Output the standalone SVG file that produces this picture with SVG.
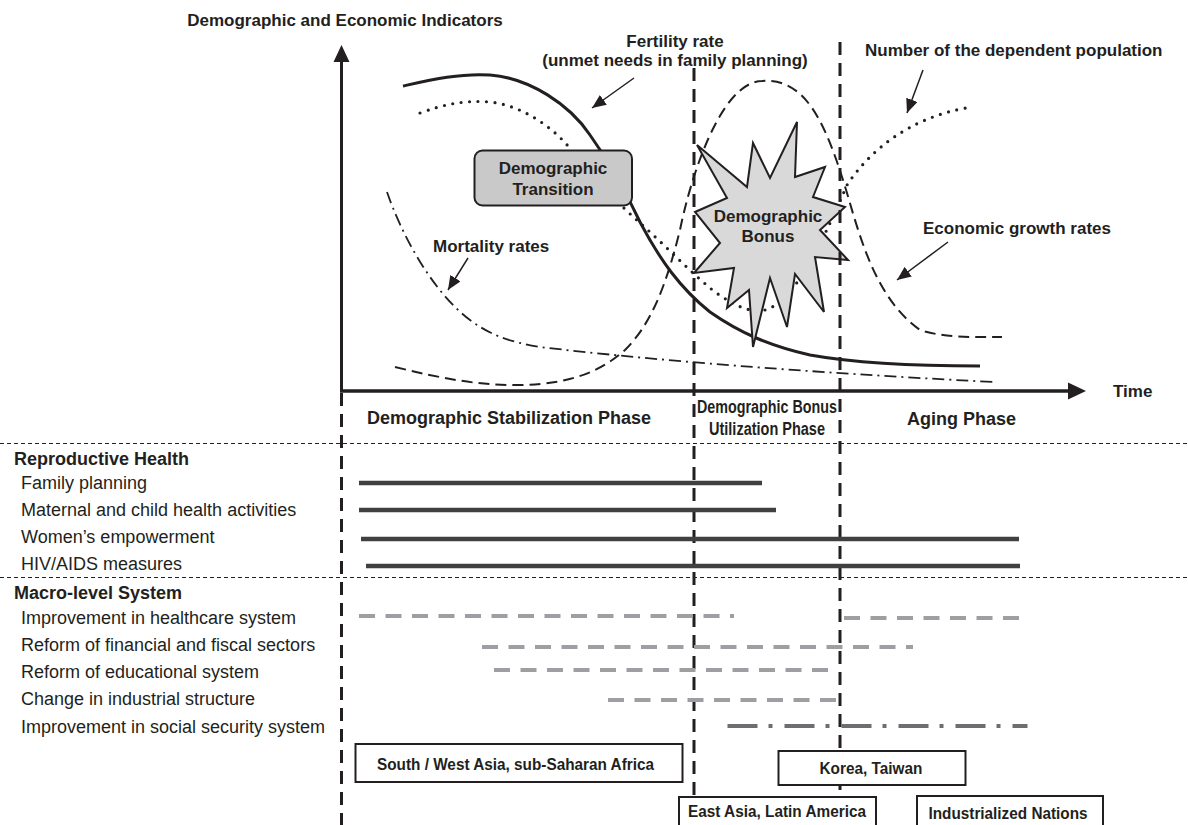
<svg xmlns="http://www.w3.org/2000/svg" width="1188" height="825" viewBox="0 0 1188 825">
<defs>
<marker id="ah" markerUnits="userSpaceOnUse" markerWidth="15" markerHeight="12" refX="14" refY="6" orient="auto"><path d="M0,0 L14,6 L0,12 z" fill="#231f20"/></marker>
<style>
text{font-family:"Liberation Sans",Arial,sans-serif;fill:#231f20}
.b{font-weight:bold}
.lab{font-size:18px}
.ann{font-size:17px;font-weight:bold}
.ph{font-size:18px;font-weight:bold}
.vd{stroke:#231f20;stroke-width:3;stroke-dasharray:13 8;fill:none}
.sep{stroke:#231f20;stroke-width:1;stroke-dasharray:4 3}
.bar{stroke:#404040;stroke-width:4.5}
.gb{stroke:#9d9fa2;stroke-width:4;stroke-dasharray:16 10.5}
.box rect{fill:#fff;stroke:#231f20;stroke-width:2}
.box text{font-size:16.5px;font-weight:bold;text-anchor:middle}
.cur{fill:none;stroke:#231f20}
.arr{stroke:#231f20;stroke-width:1.5;fill:none;marker-end:url(#ah)}
</style>
</defs>
<rect width="1188" height="825" fill="#fff"/>

<g id="curves">
<path class="cur" stroke-width="2" stroke-dasharray="11 6" d="M395,367 C440,378 480,386 520,385 C570,384 600,372 625,350 C650,325 665,290 680,230 C690,180 720,82 762,81 C805,78 825,120 847,193 C862,245 878,300 920,330 C945,338 970,337 1002,337"/>
<path class="cur" stroke-width="1.8" stroke-dasharray="12 5 2 5" d="M387,192 C400,230 430,290 470,320 C490,335 510,342 540,347 C650,360 800,372 993,382"/>
<path class="cur" stroke-width="3.2" stroke-linecap="round" stroke-dasharray="0 8.5" d="M420,113 C445,104 465,100 490,102 C520,105 550,125 568,146 C600,185 620,205 640,223 C665,245 690,272 715,292 C735,306 750,313 765,310 C790,303 815,260 847,185 C870,150 910,118 966,108"/>
<path class="cur" stroke-width="3" d="M403,86 C430,80 460,73 490,75 C530,78 570,105 590,135 C610,163 625,190 640,222 C660,260 680,288 710,312 C740,333 770,346 810,355 C860,364 920,366 980,366"/>
</g>

<g id="transition">
<rect x="474.5" y="150.5" width="157.5" height="55" rx="8" fill="#c9c9c9" stroke="#231f20" stroke-width="2"/>
<text class="ann" x="553" y="174" text-anchor="middle">Demographic</text>
<text class="ann" x="553" y="195" text-anchor="middle">Transition</text>
</g>

<g id="bonus">
<polygon points="697,145 727,198 695,212 720,243 694,273 734,268 727,308 749,290 753,347 770,278 787,327 795,274 824,312 815,257 848,260 820,230 845,207 813,197 825,167 795,177 797,122 770,178 753,143 747,187" fill="#d9d9d9" stroke="#231f20" stroke-width="2" stroke-linejoin="miter"/>
<text class="ann" x="768" y="222" text-anchor="middle">Demographic</text>
<text class="ann" x="768" y="242" text-anchor="middle">Bonus</text>
</g>

<g id="axes">
<line x1="341.5" y1="391" x2="341.5" y2="60" stroke="#231f20" stroke-width="3"/>
<polygon points="341.5,45 333.5,62 349.5,62" fill="#231f20"/>
<line x1="340" y1="391" x2="1070" y2="391" stroke="#231f20" stroke-width="3.5"/>
<polygon points="1086,391 1068,382.5 1068,399.5" fill="#231f20"/>
<text class="ann" x="1113" y="397">Time</text>
<text class="ann" x="345" y="26" text-anchor="middle">Demographic and Economic Indicators</text>
</g>

<g id="annotations">
<line class="arr" x1="634" y1="78" x2="592" y2="108"/>
<line class="arr" x1="468" y1="258" x2="448" y2="290"/>
<line class="arr" x1="923" y1="70" x2="907" y2="113"/>
<line class="arr" x1="948" y1="242" x2="897" y2="280"/>
<text class="ann" x="675" y="47" text-anchor="middle">Fertility rate</text>
<text class="ann" x="675" y="66" text-anchor="middle">(unmet needs in family planning)</text>
<text class="ann" x="865" y="56">Number of the dependent population</text>
<text class="ann" x="923" y="234">Economic growth rates</text>
<text class="ann" x="433" y="252">Mortality rates</text>
</g>

<g id="phases">
<line class="vd" x1="341.5" y1="393" x2="341.5" y2="825"/>
<line class="vd" x1="694" y1="68" x2="694" y2="825"/>
<line class="vd" x1="840" y1="42" x2="840" y2="805"/>
<text class="ph" x="367" y="424">Demographic Stabilization Phase</text>
<text class="ph" x="697" y="413" textLength="140" lengthAdjust="spacingAndGlyphs">Demographic Bonus</text>
<text class="ph" x="709" y="435" textLength="116" lengthAdjust="spacingAndGlyphs">Utilization Phase</text>
<text class="ph" x="907" y="425">Aging Phase</text>
</g>

<g id="separators">
<line class="sep" x1="0" y1="443.5" x2="1188" y2="443.5"/>
<line class="sep" x1="0" y1="577.5" x2="1188" y2="577.5"/>
</g>

<g id="labels">
<text class="lab b" x="14" y="465">Reproductive Health</text>
<text class="lab" x="21" y="489">Family planning</text>
<text class="lab" x="21" y="516">Maternal and child health activities</text>
<text class="lab" x="21" y="543">Women’s empowerment</text>
<text class="lab" x="21" y="570">HIV/AIDS measures</text>
<text class="lab b" x="14" y="599">Macro-level System</text>
<text class="lab" x="21" y="624">Improvement in healthcare system</text>
<text class="lab" x="21" y="651">Reform of financial and fiscal sectors</text>
<text class="lab" x="21" y="678">Reform of educational system</text>
<text class="lab" x="21" y="705">Change in industrial structure</text>
<text class="lab" x="21" y="733">Improvement in social security system</text>
</g>

<g id="bars">
<line class="bar" x1="359" y1="483" x2="762" y2="483"/>
<line class="bar" x1="359" y1="510" x2="776" y2="510"/>
<line class="bar" x1="361" y1="539" x2="1019" y2="539"/>
<line class="bar" x1="366" y1="566" x2="1020" y2="566"/>
<line class="gb" x1="359" y1="616" x2="734" y2="616"/>
<line class="gb" x1="844" y1="618" x2="1019" y2="618"/>
<line class="gb" x1="482" y1="647" x2="913" y2="647"/>
<line class="gb" x1="494" y1="670" x2="828" y2="670"/>
<line class="gb" x1="608" y1="700" x2="836" y2="700"/>
<line x1="727.5" y1="726" x2="1027.5" y2="726" stroke="#6d6e71" stroke-width="4" stroke-dasharray="30 11 4 12"/>
</g>

<g id="box-south" class="box">
<rect x="355.5" y="744" width="327" height="38"/>
<text x="515.5" y="770" textLength="277" lengthAdjust="spacingAndGlyphs">South / West Asia, sub-Saharan Africa</text>
</g>
<g id="box-korea" class="box">
<rect x="778.5" y="751" width="187" height="34"/>
<text x="871" y="774" textLength="103" lengthAdjust="spacingAndGlyphs">Korea, Taiwan</text>
</g>
<g id="box-eastasia" class="box">
<rect x="679" y="797" width="197" height="36"/>
<text x="777" y="817" textLength="178" lengthAdjust="spacingAndGlyphs">East Asia, Latin America</text>
</g>
<g id="box-industrial" class="box">
<rect x="917" y="796" width="186" height="37"/>
<text x="1008" y="819" textLength="159" lengthAdjust="spacingAndGlyphs">Industrialized Nations</text>
</g>
</svg>
